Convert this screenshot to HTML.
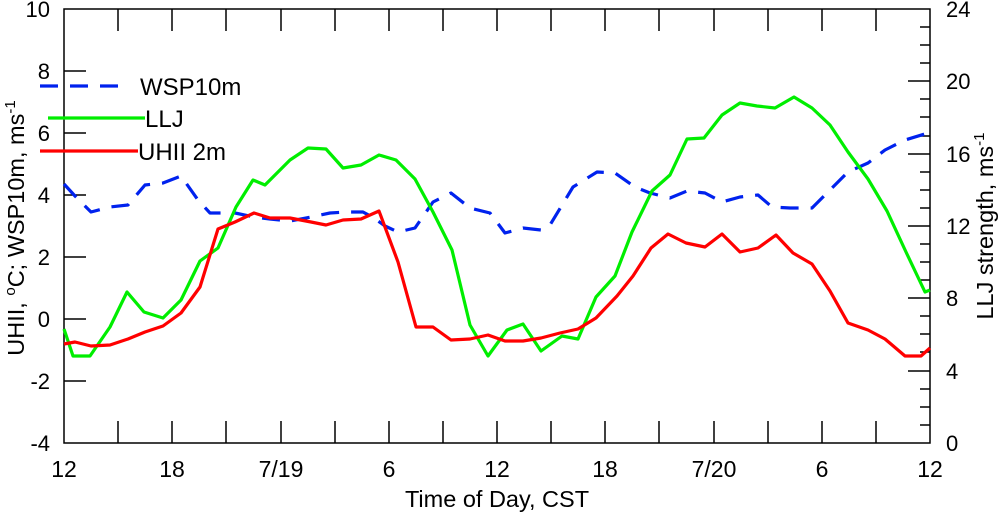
<!DOCTYPE html>
<html><head><meta charset="utf-8"><style>
html,body{margin:0;padding:0;background:#fff;}
svg{display:block;font-family:"Liberation Sans",Arial,sans-serif;}
</style></head><body>
<svg width="1000" height="516" viewBox="0 0 1000 516" xmlns="http://www.w3.org/2000/svg">
<rect width="1000" height="516" fill="#fff"/>
<g stroke="#000" stroke-width="1.5" fill="none">
<rect x="64" y="9" width="866" height="434"/>
<path d="M118,9v22M172,9v22M226,9v22M281,9v22M335,9v22M389,9v22M443,9v22M497,9v22M551,9v22M605,9v22M659,9v22M714,9v22M768,9v22M822,9v22M876,9v22
M118,443v-22M172,443v-22M226,443v-22M281,443v-22M335,443v-22M389,443v-22M443,443v-22M497,443v-22M551,443v-22M605,443v-22M659,443v-22M714,443v-22M768,443v-22M822,443v-22M876,443v-22"/>
<path d="M64,71h22M64,133h22M64,195h22M64,257h22M64,319h22M64,381h22"/>
<path d="M930,81h-22M930,154h-22M930,226h-22M930,298h-22M930,371h-22"/>
<path d="M930,27h-10M930,45h-10M930,63h-10M930,99h-10M930,117h-10M930,136h-10M930,172h-10M930,190h-10M930,208h-10M930,244h-10M930,262h-10M930,280h-10M930,316h-10M930,334h-10M930,352h-10M930,389h-10M930,407h-10M930,425h-10"/>
</g>
<g font-size="22" fill="#000">
<g text-anchor="end">
<text x="50" y="17">10</text><text x="50" y="79">8</text><text x="50" y="141">6</text><text x="50" y="203">4</text><text x="50" y="265">2</text><text x="50" y="327">0</text><text x="50" y="389">-2</text><text x="50" y="451">-4</text>
</g>
<g text-anchor="start">
<text x="946" y="17">24</text><text x="946" y="89">20</text><text x="946" y="162">16</text><text x="946" y="234">12</text><text x="946" y="306">8</text><text x="946" y="379">4</text><text x="946" y="451">0</text>
</g>
<g text-anchor="middle" font-size="23">
<text x="64" y="477">12</text><text x="172" y="477">18</text><text x="281" y="477">7/19</text><text x="389" y="477">6</text><text x="497" y="477">12</text><text x="605" y="477">18</text><text x="714" y="477">7/20</text><text x="822" y="477">6</text><text x="930" y="477">12</text>
</g>
<text x="497" y="507" text-anchor="middle" font-size="23.5">Time of Day, CST</text>
<text transform="translate(24,228) rotate(-90)" text-anchor="middle" font-size="23.5">UHII, <tspan font-size="15" dy="-9">o</tspan><tspan dy="9">C; WSP10m, ms</tspan><tspan font-size="15" dy="-9">-1</tspan></text>
<text transform="translate(993,226) rotate(-90)" text-anchor="middle" font-size="23.5">LLJ strength, ms<tspan font-size="15" dy="-9">-1</tspan></text>
<text x="140" y="95" font-size="24">WSP10m</text>
<text x="145" y="127" font-size="24">LLJ</text>
<text x="138" y="160" font-size="24">UHII 2m</text>
</g>
<g fill="none" stroke-width="3.2" stroke-linejoin="round">
<path stroke="#0022ee" stroke-dasharray="18,12" d="M40,86H124"/>
<path stroke="#00ee00" d="M48,118H145"/>
<path stroke="#ff0000" d="M40,151H138"/>
<path stroke="#0022ee" stroke-dasharray="18,12" d="M64,184L75,196L91,212L110,207L128,205L145,185L163,183L181,176L198,200L210,213L235,213L254,217L270,219L290,221L311,217L330,213L346,212L363,212L374,218L385,226L398,232L415,228L433,202L451,193L470,208L490,213L505,233L523,228L541,230L550,225L573,187L597,172L615,173L635,187L650,193L670,198L687,191L705,193L722,202L740,197L758,195L772,207L790,208L812,208L828,192L848,172L868,163L885,150L905,140L928,133"/>
<path stroke="#00ee00" d="M64,329L73,356L90,356L110,327L127,292L144,312L163,318L181,300L200,261L218,248L236,207L253,180L265,185L290,160L308,148L326,149L343,168L361,165L379,155L396,160L415,179L433,212L452,250L470,325L488,356L507,330L523,324L541,351L562,336L578,339L596,297L615,276L632,232L652,191L670,175L687,139L704,138L722,115L740,103L757,106L775,108L794,97L812,108L830,125L848,152L868,179L887,211L906,252L925,292L930,290"/>
<path stroke="#ff0000" d="M64,344L75,342L91,346L110,345L128,339L145,332L163,326L181,313L200,287L218,229L235,222L254,213L270,218L290,218L311,222L326,225L343,220L361,219L379,211L398,262L416,327L433,327L451,340L470,339L488,335L505,341L523,341L541,338L560,333L578,329L596,318L617,296L633,276L651,248L668,234L686,243L705,247L722,234L740,252L758,248L776,235L793,253L812,264L830,291L848,323L868,330L885,339L905,356L921,356L930,348"/>
</g>
</svg>
</body></html>
